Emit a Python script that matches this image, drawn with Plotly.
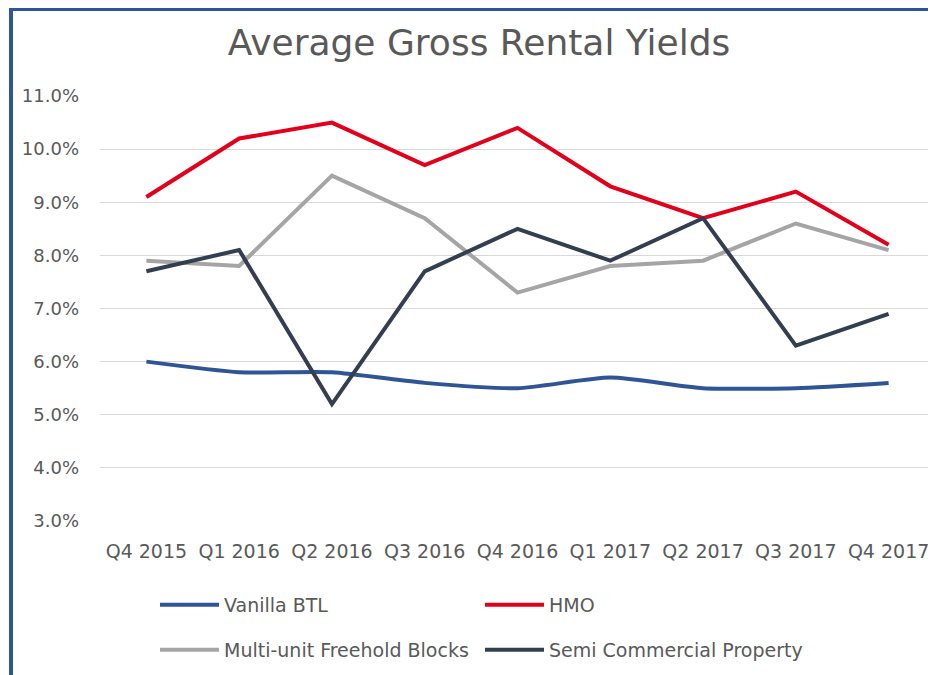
import plotly.graph_objects as go

quarters = ["Q4 2015", "Q1 2016", "Q2 2016", "Q3 2016", "Q4 2016",
            "Q1 2017", "Q2 2017", "Q3 2017", "Q4 2017"]
vanilla_btl = [0.060, 0.058, 0.058, 0.056, 0.055, 0.057, 0.055, 0.055, 0.056]
hmo = [0.091, 0.102, 0.105, 0.097, 0.104, 0.093, 0.087, 0.092, 0.082]
multi_unit = [0.079, 0.078, 0.095, 0.087, 0.073, 0.078, 0.079, 0.086, 0.081]
semi_commercial = [0.077, 0.081, 0.052, 0.077, 0.085, 0.079, 0.087, 0.063, 0.069]
y_ticks = [0.03, 0.04, 0.05, 0.06, 0.07, 0.08, 0.09, 0.10, 0.11]

FONT = "DejaVu Sans"
TXT = "#595959"

OFF = 8  # page body margin offset
W, H = 936 - OFF, 675 - OFF
ML, MR, MT, MB = 100 - OFF, 1, 96 - OFF, 675 - 521
PW, PH = W - ML - MR, H - MT - MB


def px_x(p):
    # p in reference page pixels
    return (p - OFF - ML) / PW


def px_y(p):
    return (H - MB - (p - OFF)) / PH


fig = go.Figure()
fig.add_trace(go.Scatter(x=quarters, y=vanilla_btl, name="Vanilla BTL", mode="lines",
                         line=dict(color="#2F5597", width=4, shape="spline", smoothing=0.6),
                         legend="legend"))
fig.add_trace(go.Scatter(x=quarters, y=hmo, name="HMO", mode="lines",
                         line=dict(color="#E2001A", width=4), legend="legend"))
fig.add_trace(go.Scatter(x=quarters, y=multi_unit, name="Multi-unit Freehold Blocks", mode="lines",
                         line=dict(color="#A5A5A5", width=4), legend="legend2"))
fig.add_trace(go.Scatter(x=quarters, y=semi_commercial, name="Semi Commercial Property", mode="lines",
                         line=dict(color="#333F50", width=4), legend="legend2"))

legend_common = dict(orientation="h", xanchor="left", yanchor="middle",
                     entrywidth=251, entrywidthmode="pixels", itemwidth=59,
                     font=dict(family=FONT, size=19, color=TXT),
                     bgcolor="rgba(0,0,0,0)", traceorder="normal")

fig.update_layout(
    width=W, height=H,
    margin=dict(l=ML, r=MR, t=MT, b=MB, autoexpand=False),
    paper_bgcolor="white", plot_bgcolor="white",
    title=dict(text="Average Gross Rental Yields", xref="container", yref="container",
               x=(479 - OFF) / W, y=1 - (42 - OFF) / H, xanchor="center", yanchor="middle",
               font=dict(family=FONT, size=36, color=TXT)),
    xaxis=dict(range=[-0.5, 8.5], showgrid=False, zeroline=False, showline=False, ticks="",
               tickfont=dict(family=FONT, size=19, color=TXT), ticklabelstandoff=17),
    yaxis=dict(range=[0.03, 0.11], tickvals=y_ticks, tickformat=".1%",
               showgrid=True, gridcolor="#D9D9D9", gridwidth=1.3, zeroline=False,
               showline=False, ticks="",
               tickfont=dict(family=FONT, size=18, color=TXT), ticklabelstandoff=20),
    legend=dict(x=px_x(155), y=px_y(605), **legend_common),
    legend2=dict(x=px_x(155), y=px_y(650), **legend_common),
    shapes=[
        dict(type="line", xref="paper", yref="paper", x0=px_x(11), x1=px_x(11),
             y0=px_y(7), y1=px_y(690), line=dict(color="#2F5597", width=4)),
        dict(type="line", xref="paper", yref="paper", x0=px_x(9), x1=px_x(960),
             y0=px_y(9), y1=px_y(9), line=dict(color="#2F5597", width=4)),
    ],
    showlegend=True,
)

fig.write_html("out.html")
